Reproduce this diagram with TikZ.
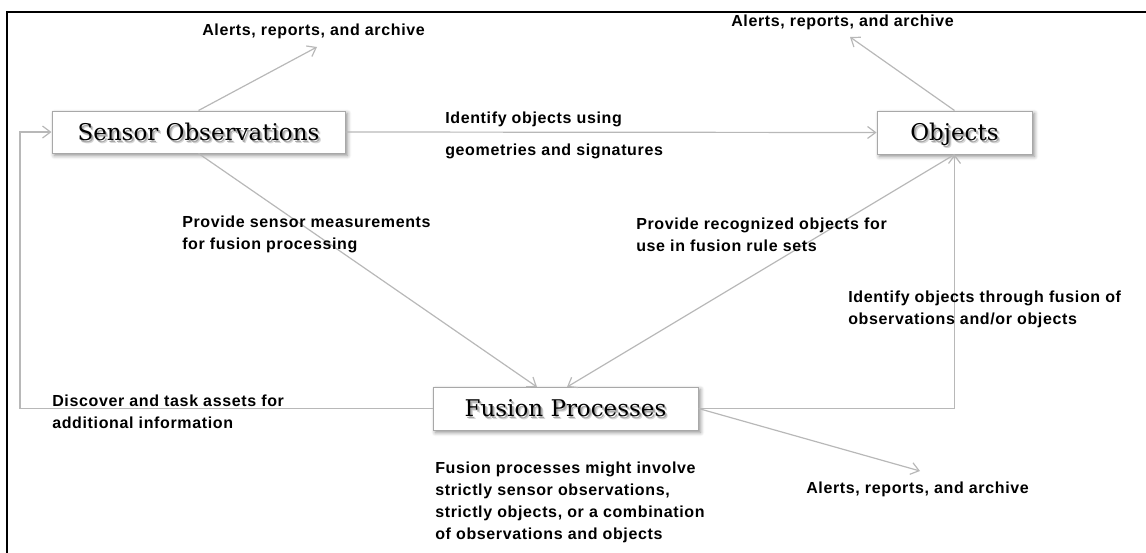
\documentclass[tikz,border=0pt]{standalone}
\usepackage{fontspec}
\setmainfont{Liberation Sans}
\newfontfamily\boxfont{DejaVu Serif}
\newfontfamily\labelfont{Liberation Sans}[LetterSpace=4]
\usetikzlibrary{arrows.meta,shadows.blur}

\definecolor{boxline}{HTML}{A8A8A8}
\definecolor{wire}{HTML}{B8B8B8}

% text with a soft grey shadow below and to the right
\newcommand\softtext[1]{%
  \makebox[0pt][l]{\hspace{2pt}\raisebox{-2pt}{\textcolor{black!16}{#1}}}%
  \makebox[0pt][l]{\hspace{1.2pt}\raisebox{-1.2pt}{\textcolor{black!34}{#1}}}%
  #1}

\begin{document}
\begin{tikzpicture}[x=0.75pt,y=-0.75pt,
  stagebox/.style={draw=boxline, line width=0.75pt, fill=white,
    font=\boxfont\fontsize{17.25}{20}\selectfont,
    text height=12.6pt, text depth=0pt, inner sep=0pt,
    blur shadow={shadow xshift=1.8pt, shadow yshift=-1.8pt,
      shadow blur steps=6, shadow opacity=45, shadow blur radius=3pt}},
  note/.style={font=\labelfont\bfseries\fontsize{12}{16.5}\selectfont,
    align=left, anchor=west, inner sep=0pt},
  flow/.style={draw=wire, line width=0.9pt, -{Straight Barb[length=6pt,width=9pt]}},
  link/.style={draw=wire, line width=0.9pt}]

\useasboundingbox (0,0) rectangle (1146,553);

% frame along the top and left edges
\draw[line width=1.5pt] (7,553) -- (7,12) -- (1146,12);

% the three stages
\node[stagebox, minimum width=219.75pt, minimum height=31.5pt] (sensor) at (198.5,132) {\softtext{Sensor Observations}};
\node[stagebox, minimum width=116.25pt, minimum height=32.25pt] (objects) at (954.5,132.5) {\softtext{Objects}};
\node[stagebox, minimum width=198.75pt, minimum height=32.25pt] (fusion) at (565.5,408.5) {\softtext{Fusion Processes}};

% free ends and bends of connectors
\coordinate (tipA) at (317,47);
\coordinate (tipB) at (850,37);
\coordinate (tipI) at (920,471);
\coordinate (fusInL) at (537,387);
\coordinate (fusInR) at (567,387);
\coordinate (loop) at (20,408.5);

% connectors
\draw[flow] (sensor.north) -- (tipA);
\draw[flow] (objects.north) -- (tipB);
\draw[flow] (sensor.east) -- (objects.west);
\draw[flow] (sensor.south) -- (fusInL);
\draw[flow] (objects.south) -- (fusInR);
\draw[flow] (fusion.west) -- (loop) |- (sensor.west);
\draw[flow] (fusion.east) -| (objects.south);
\draw[flow] (fusion.east) -- (tipI);

% labels
\node[note] (alertsA) at (202,31) {Alerts, reports, and archive};
\node[note] (alertsB) at (731,22) {Alerts, reports, and archive};
\node[note, font=\labelfont\bfseries\fontsize{12}{24}\selectfont] (identA) at (445,135) {Identify objects using\\geometries and signatures};
\node[note] (provS) at (182,234) {Provide sensor measurements\\for fusion processing};
\node[note] (provO) at (636,235) {Provide recognized objects for\\use in fusion rule sets};
\node[note] (identB) at (848,309) {Identify objects through fusion of\\observations and/or objects};
\node[note] (discover) at (52,412) {Discover and task assets for\\additional information};
\node[note] (fusnote) at (435,502) {Fusion processes might involve\\strictly sensor observations,\\strictly objects, or a combination\\of observations and objects};
\node[note] (alertsI) at (806,489) {Alerts, reports, and archive};

\end{tikzpicture}
\end{document}
